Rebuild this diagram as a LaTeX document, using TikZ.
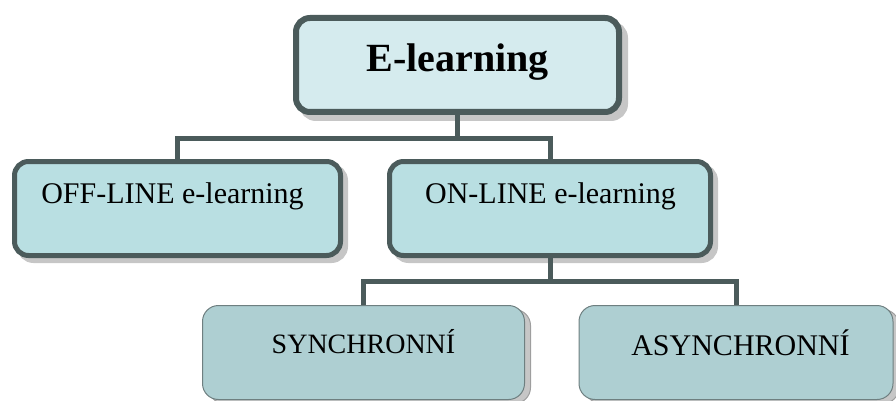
\documentclass[tikz,border=0pt]{standalone}
\usepackage{fontspec}
\setmainfont{Liberation Serif}
\usetikzlibrary{shadows}
\definecolor{topfill}{HTML}{D5EBEE}
\definecolor{midfill}{HTML}{B9DFE2}
\definecolor{botfill}{HTML}{AECFD2}
\definecolor{edge}{HTML}{4B5B5B}
\definecolor{botedge}{HTML}{6E7F80}
\definecolor{shg}{HTML}{C6C6C6}
\tikzset{
  boxbase/.style={rectangle, rounded corners=14pt, inner sep=0pt},
  topbox/.style={boxbase, fill=topfill, draw=edge, line width=6pt,
    minimum width=323pt, minimum height=94pt,
    drop shadow={shadow xshift=6pt, shadow yshift=-6pt, fill=shg, draw=shg, line width=6pt, opacity=1}},
  midbox/.style={boxbase, fill=midfill, draw=edge, line width=5pt,
    minimum height=94pt,
    drop shadow={shadow xshift=5pt, shadow yshift=-5pt, fill=shg, draw=shg, line width=5pt, opacity=1}},
  botbox/.style={boxbase, rounded corners=16pt, fill=botfill, draw=botedge, line width=1pt,
    minimum height=94pt,
    drop shadow={shadow xshift=6pt, shadow yshift=-4pt, fill=shg, draw=shg!80!black, line width=1pt, opacity=1}},
  conn/.style={draw=edge, line width=5pt},
  lbl/.style={anchor=base, inner sep=0pt, text=black}
}
\begin{document}
\begin{tikzpicture}[x=1pt, y=-1pt]
\useasboundingbox (0,0) rectangle (896,401);
\node[topbox] (top) at (457.5,65) {};
\node[midbox, minimum width=326pt] (off) at (177.5,208.5) {};
\node[midbox, minimum width=321pt] (on) at (550,208.5) {};
\node[botbox, minimum width=322pt] (syn) at (363.5,352.5) {};
\node[botbox, minimum width=314pt] (asyn) at (736,352.5) {};
\coordinate (hub1) at (457.5,138);
\coordinate (hub2) at (550,281);
\draw[conn] (top.south) -- (hub1);
\draw[conn] (hub1) -| (off.north);
\draw[conn] (hub1) -| (on.north);
\draw[conn] (on.south) -- (hub2);
\draw[conn] (hub2) -| (syn.north);
\draw[conn] (hub2) -| (asyn.north);
\node[lbl, font=\fontsize{40}{48}\selectfont\bfseries] (toplbl) at (457.5,72) {E-learning};
\node[lbl, font=\fontsize{30}{36}\selectfont] (offlbl) at (172.5,203) {OFF-LINE e-learning};
\node[lbl, font=\fontsize{30}{36}\selectfont] (onlbl) at (550.5,203) {ON-LINE e-learning};
\node[lbl, font=\fontsize{28}{34}\selectfont] (synlbl) at (363.5,353) {SYNCHRONNÍ};
\node[lbl, font=\fontsize{30}{36}\selectfont] (asynlbl) at (740.5,355) {ASYNCHRONNÍ};
\end{tikzpicture}
\end{document}
